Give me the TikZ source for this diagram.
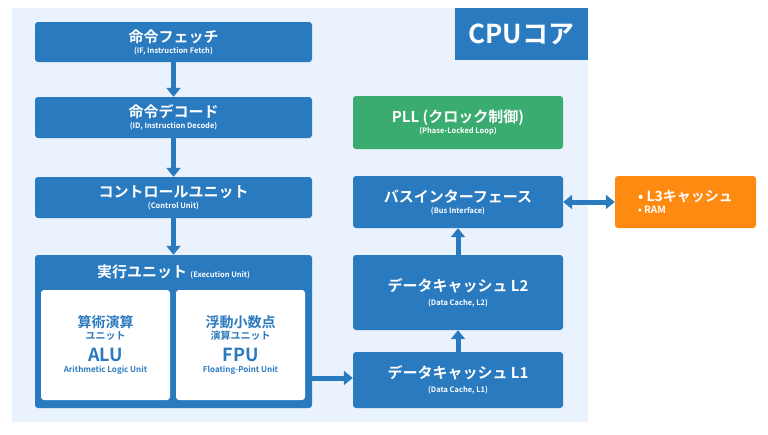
\documentclass[tikz,border=0pt]{standalone}
\usepackage{fontspec}
\setmainfont{Noto Sans CJK JP}[BoldFont={Noto Sans CJK JP Bold}]
\usetikzlibrary{arrows.meta,positioning}
\definecolor{coreblue}{HTML}{2A7AC0}
\definecolor{corebg}{HTML}{EAF2FD}
\definecolor{pllgreen}{HTML}{3AAC6F}
\definecolor{memorange}{HTML}{FF8A12}
\newcommand{\subtxt}[1]{{\bfseries\fontsize{7.5}{9}\selectfont #1}}
\tikzset{
  unit/.style={fill=coreblue, text=white, rounded corners=3pt, align=center,
    inner sep=0pt, font=\bfseries},
  inner/.style={fill=white, text=coreblue, rounded corners=3pt, align=center,
    inner sep=0pt, minimum width=129pt, minimum height=110pt, font=\bfseries},
  flow/.style={coreblue, line width=5pt, -{Triangle[length=9pt,width=14pt]}},
}
\begin{document}
\begin{tikzpicture}[x=1pt,y=-1pt]
\useasboundingbox (0,0) rectangle (768,434);
\fill[corebg] (12,8) rectangle (588,422);
\node[fill=coreblue, text=white, minimum width=133pt, minimum height=52pt,
  inner sep=0pt, font=\bfseries\fontsize{26}{30}\selectfont] (core) at (521.5,34) {CPUコア};

\node[unit, minimum width=277pt, minimum height=40pt] (fetch) at (173.5,42)
  {\fontsize{15}{17}\selectfont 命令フェッチ\\[-1pt]\subtxt{(IF, Instruction Fetch)}};
\node[unit, minimum width=277pt, minimum height=41pt] (decode) at (173.5,117.5)
  {\fontsize{15}{17}\selectfont 命令デコード\\[-1pt]\subtxt{(ID, Instruction Decode)}};
\node[unit, minimum width=277pt, minimum height=41pt] (control) at (173.5,197.5)
  {\fontsize{15}{17}\selectfont コントロールユニット\\[-1pt]\subtxt{(Control Unit)}};
\node[unit, minimum width=277pt, minimum height=153pt] (exec) at (173.5,331.5) {};
\node[text=white, font=\bfseries\fontsize{15}{17}\selectfont, anchor=center] (execlabel) at (173.5,272)
  {実行ユニット \subtxt{(Execution Unit)}};
\node[inner] (alu) at (105.5,345)
  {\fontsize{14}{19}\selectfont 算術演算\\ユニット\\[6pt]
   \fontsize{18}{20}\selectfont ALU\\[-1pt]{\fontsize{8}{10}\selectfont Arithmetic Logic Unit}};
\node[inner] (fpu) at (240.5,345)
  {\fontsize{14}{19}\selectfont 浮動小数点\\演算ユニット\\[6pt]
   \fontsize{18}{20}\selectfont FPU\\[-1pt]{\fontsize{8}{10}\selectfont Floating-Point Unit}};

\node[unit, fill=pllgreen, minimum width=210pt, minimum height=53pt] (pll) at (458,122.5)
  {\fontsize{15}{17}\selectfont PLL (クロック制御)\\[-1pt]\subtxt{(Phase-Locked Loop)}};
\node[unit, minimum width=210pt, minimum height=52pt] (bus) at (458,202)
  {\fontsize{15}{17}\selectfont バスインターフェース\\[-1pt]\subtxt{(Bus Interface)}};
\node[unit, minimum width=210pt, minimum height=75pt] (l2) at (458,292.5)
  {\fontsize{15}{17}\selectfont データキャッシュ L2\\[2pt]\subtxt{(Data Cache, L2)}};
\node[unit, minimum width=210pt, minimum height=56pt] (l1) at (458,380)
  {\fontsize{15}{17}\selectfont データキャッシュ L1\\[2pt]\subtxt{(Data Cache, L1)}};
\node[unit, fill=memorange, minimum width=141pt, minimum height=52pt, align=left] (mem) at (685.5,202)
  {\fontsize{14}{18}\selectfont • L3キャッシュ\\• RAM};

\draw[flow] (fetch) -- (decode);
\draw[flow] (decode) -- (control);
\draw[flow] (control) -- (exec);
\draw[flow] (exec.east |- 0,378) -- (l1.west |- 0,378);
\draw[flow] (l1) -- (l2);
\draw[flow] (l2) -- (bus);
\draw[flow, {Triangle[length=9pt,width=14pt]}-{Triangle[length=9pt,width=14pt]}] (bus) -- (mem);
\end{tikzpicture}
\end{document}
